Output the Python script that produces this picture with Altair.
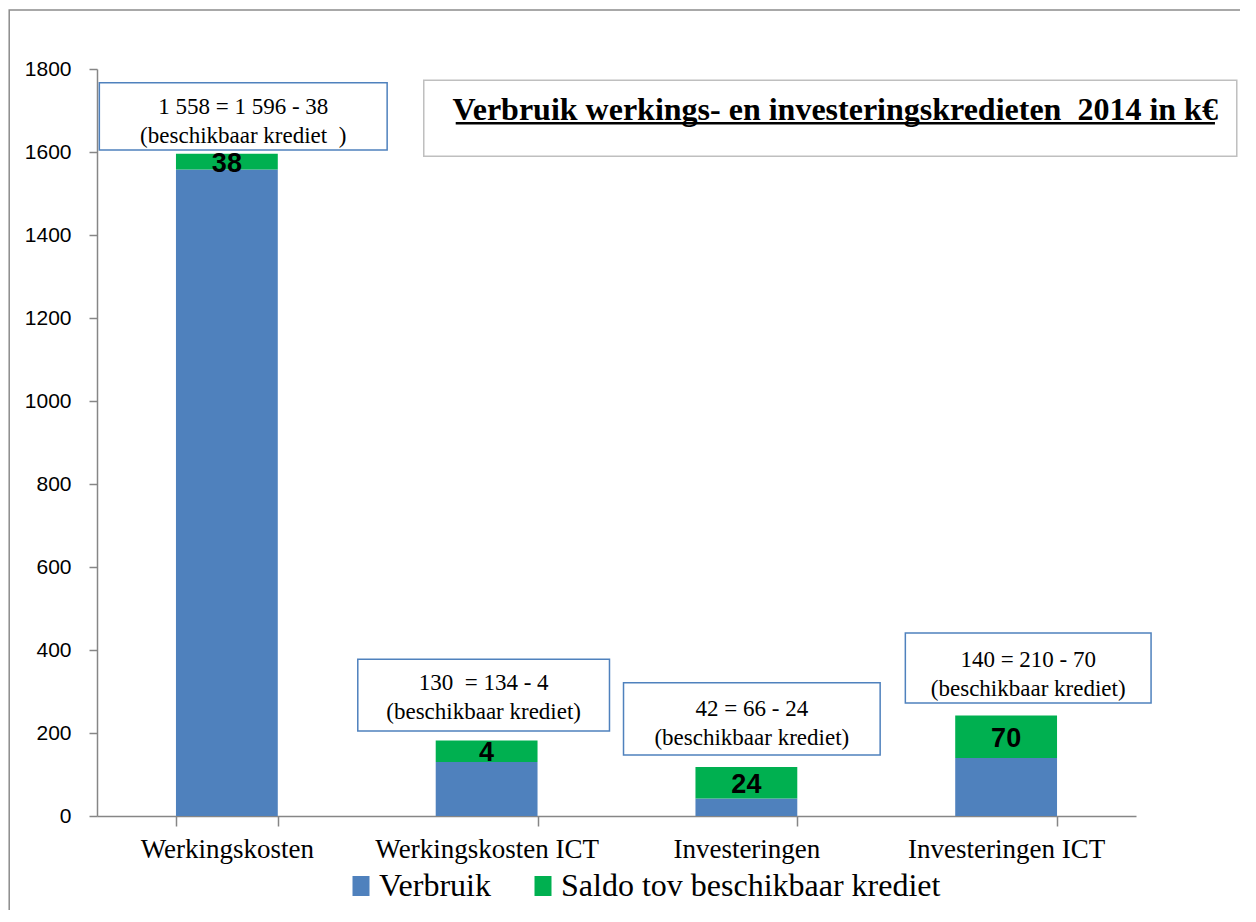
import altair as alt
import pandas as pd

# ---- data -------------------------------------------------------------
categories = ["Werkingskosten", "Werkingskosten ICT", "Investeringen", "Investeringen ICT"]
verbruik = [1558, 130, 42, 140]
saldo_drawn = [38, 52, 76, 102]          # heights of green segments as drawn
saldo_labels = ["38", "4", "24", "70"]  # labels printed on the green segments
series = ["Verbruik", "Saldo tov beschikbaar krediet"]
colors = ["#4F81BD", "#00B050"]

box_lines = [
    "1 558 = 1 596 - 38\n(beschikbaar krediet\u00a0 )",
    "130\u00a0 = 134 - 4\n(beschikbaar krediet)",
    "42 = 66 - 24\n(beschikbaar krediet)",
    "140 = 210 - 70\n(beschikbaar krediet)",
]
box_x1 = [0.009, 1.004, 2.027, 3.112]
box_x2 = [1.117, 1.973, 3.015, 4.058]
box_y_top = [1767, 378, 321, 441]
box_y_bot = [1605, 205, 147, 272]
box_text_y = [1709, 320, 259, 376]   # first line centre

title_text = "Verbruik werkings- en investeringskredieten\u00a0 2014 in k€"
title_box = dict(x1=1.258, x2=4.388, y1=1773, y2=1590)
title_pos = dict(x=2.842, y=1677, ux1=1.381, ux2=4.304, uy=1669)
frame = dict(x1=-0.338, x2=5.0, y1=1942, y2=-300)

# ---- tables -------------------------------------------------------------
rows = []
for i, c in enumerate(categories):
    rows.append({"cat": c, "serie": series[0], "value": verbruik[i], "ord": 0})
    rows.append({"cat": c, "serie": series[1], "value": saldo_drawn[i], "ord": 1})
bars_df = pd.DataFrame(rows)

lab_df = pd.DataFrame({
    "cat": categories,
    "y": [v + s / 2 for v, s in zip(verbruik, saldo_drawn)],
    "label": saldo_labels,
})

box_df = pd.DataFrame({
    "x1": box_x1, "x2": box_x2, "y1": box_y_top, "y2": box_y_bot,
    "xc": [(a + b) / 2 for a, b in zip(box_x1, box_x2)],
    "ty": box_text_y, "txt": box_lines,
})

yscale = alt.Scale(domain=[0, 1800], nice=False)
xband = alt.Scale(paddingInner=0.608, paddingOuter=0.304)
xq = alt.Scale(domain=[0, 4], nice=False, zero=False)

x_axis = alt.Axis(labelAngle=0, tickBand="extent", tickSize=10, labelPadding=10,
                  labelFont="Liberation Serif", labelFontSize=27, labelColor="black",
                  labelLimit=0, title=None,
                  domainColor="#868686", tickColor="#868686", domainWidth=1.5, tickWidth=1.5)
y_axis = alt.Axis(values=list(range(0, 1801, 200)), format="d", tickSize=8, labelPadding=18,
                  labelFont="Liberation Sans", labelFontSize=21, labelColor="black", title=None,
                  domainColor="#868686", tickColor="#868686", domainWidth=1.5, tickWidth=1.5,
                  grid=False)


def Y(field):
    return alt.Y(field, scale=yscale, axis=y_axis, title=None)


bars = alt.Chart(bars_df).mark_bar().encode(
    x=alt.X("cat:N", sort=categories, scale=xband, axis=x_axis, title=None),
    y=alt.Y("value:Q", stack="zero", scale=yscale, axis=y_axis, title=None),
    color=alt.Color("serie:N", scale=alt.Scale(domain=series, range=colors),
                    legend=alt.Legend(title=None, orient="none", legendX=248, legendY=801,
                                      direction="horizontal", labelFont="Liberation Serif",
                                      labelFontSize=32, labelColor="black", labelLimit=0,
                                      symbolType="M-0.85,-1H0.85V1H-0.85Z", symbolSize=400,
                                      symbolStrokeWidth=0, symbolOpacity=1,
                                      labelOffset=2, columnPadding=36)),
    order=alt.Order("ord:Q"),
)

labels = alt.Chart(lab_df).mark_text(font="Liberation Sans", fontWeight="bold", fontSize=27,
                                     color="black", baseline="middle", dy=2).encode(
    x=alt.X("cat:N", sort=categories, scale=xband, axis=x_axis, title=None),
    y=Y("y:Q"),
    text="label:N",
)

main = alt.layer(bars, labels)

XQ = lambda f: alt.X(f, scale=xq, axis=None)

boxes = alt.Chart(box_df).mark_rect(fill="white", stroke="#4F81BD", strokeWidth=1.5).encode(
    x=XQ("x1:Q"), x2="x2", y=Y("y1:Q"), y2="y2",
)
box_text = alt.Chart(box_df).mark_text(font="Liberation Serif", fontSize=23, color="black",
                                       lineBreak="\n", lineHeight=29, baseline="middle").encode(
    x=XQ("xc:Q"), y=Y("ty:Q"), text="txt:N",
)

tdf = pd.DataFrame([{**title_box, **title_pos, "t": title_text}])
tbox = alt.Chart(tdf).mark_rect(fill="white", stroke="#BFBFBF", strokeWidth=1.5).encode(
    x=XQ("x1:Q"), x2="x2", y=Y("y1:Q"), y2="y2",
)
ttext = alt.Chart(tdf).mark_text(font="Liberation Serif", fontWeight="bold", fontSize=32,
                                 color="black", baseline="alphabetic").encode(
    x=XQ("x:Q"), y=Y("y:Q"), text="t:N",
)
tline = alt.Chart(tdf).mark_rule(color="black", strokeWidth=2.5).encode(
    x=XQ("ux1:Q"), x2="ux2", y=Y("uy:Q"),
)

fdf = pd.DataFrame([frame])
frame_rect = alt.Chart(fdf).mark_rect(fill=None, fillOpacity=0, stroke="#8C8C8C", strokeWidth=1.5).encode(
    x=XQ("x1:Q"), x2="x2", y=Y("y1:Q"), y2="y2",
)

annot = alt.layer(frame_rect, tbox, ttext, tline, boxes, box_text)

chart = alt.layer(main, annot).resolve_scale(x="independent").properties(
    width=1039, height=747,
    autosize=alt.AutoSizeParams(type="none"),
    padding={"left": 89, "top": 61, "right": 104, "bottom": 94},
    background="white",
).configure_view(strokeWidth=0)

chart.save("out.html", embed_options={"renderer": "svg", "actions": False})
